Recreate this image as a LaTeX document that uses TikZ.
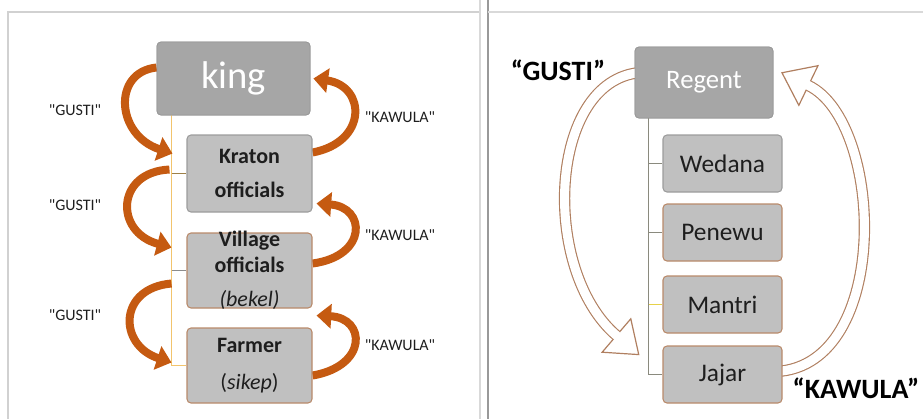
\documentclass[tikz,border=0pt]{standalone}
\usepackage{fontspec}
\setmainfont{Carlito}
\newfontfamily\lblfont{Carlito}[Ligatures=TeXOff]
\usetikzlibrary{arrows.meta,calc}
\definecolor{boxdark}{HTML}{A6A6A6}
\definecolor{boxlight}{HTML}{C0C0C0}
\definecolor{edgegray}{HTML}{9C9C9C}
\definecolor{edgebrown}{HTML}{B98A6A}
\definecolor{arrorange}{HTML}{C55A11}
\definecolor{outbrown}{HTML}{B07F60}
\definecolor{trunkyel}{HTML}{F2C46D}
\definecolor{trunkgray}{HTML}{8A8A7E}
\definecolor{tickyel}{HTML}{E6D24A}
\definecolor{txt}{HTML}{1E1E1E}
\newcommand\bxt[3]{\parbox[c][#2][c]{#1}{\centering #3}}
\begin{document}
\begin{tikzpicture}[x=0.75pt,y=-0.75pt,
  darkbox/.style={rectangle, rounded corners=3pt, fill=boxdark, draw=boxdark!92!black, line width=0.6pt, text=white, inner sep=0pt},
  lightbox/.style={rectangle, rounded corners=3pt, fill=boxlight, draw=edgegray, line width=0.8pt, text=txt, inner sep=0pt},
  brownbox/.style={lightbox, draw=edgebrown},
  lbl/.style={font=\lblfont\fontsize{12}{14}\selectfont, text=txt, inner sep=1pt},
  biglbl/.style={font=\fontsize{21}{24}\selectfont\bfseries, text=black, inner sep=1pt},
  gusti/.style={draw=arrorange, line width=6pt, -{Triangle[length=11pt,width=18pt]}},
  frame/.style={line width=1.4pt}
]
\useasboundingbox (0,0) rectangle (923,419);
% frames
\draw[frame, black!18] (8,419) -- (8,12) -- (480,12);
\draw[frame, black!15] (480,0) -- (480,419);
\draw[frame, black!40] (488,0) -- (488,419);
\draw[frame, black!15] (488,12) -- (923,12);

% ---------- left panel ----------
\coordinate (kingC) at (233.5,78.5);
\node[darkbox, minimum width=114.75pt, minimum height=54.75pt, font=\fontsize{29}{30}\selectfont] (king) at (kingC) {king};
\path (249.5,173.5) coordinate (kratonC) (249.5,270.5) coordinate (villageC) (249.5,365.5) coordinate (farmerC);
\node[lightbox, minimum width=93.75pt, minimum height=57.75pt, opacity=0] (kraton) at (kratonC) {};
\node[brownbox, minimum width=93.75pt, minimum height=56.25pt, opacity=0] (village) at (villageC) {};
\node[brownbox, minimum width=93.75pt, minimum height=56.25pt, opacity=0] (farmer) at (farmerC) {};

% trunk left
\coordinate (trunkL) at ($(king.south west)+(15,0)$);
\draw[trunkyel, line width=1pt] (trunkL) |- (farmer.west);
\draw[black!35!trunkyel, line width=1pt] (trunkL |- kraton.west) -- (kraton.west);
\draw[black!45, line width=1pt] (trunkL |- village.west) -- (village.west);

% GUSTI arrows (left)
\draw[gusti] ($(king.west)+(0,-11)$) .. controls (112,72) and (116,135) .. ($(kraton.west)+(-14,-20)$);
\draw[gusti] ($(kraton.west)+(-17,-4)$) .. controls (116,172) and (114,232) .. ($(village.west)+(-15,-23)$);
\draw[gusti] ($(village.west)+(-15,13)$) .. controls (118,288) and (118,345) .. ($(farmer.west)+(-15,-3)$);
% KAWULA arrows (left)
\draw[gusti] ($(kraton.east)+(0,-21)$) .. controls (368,142) and (366,86) .. ($(king.east)+(3,0)$);
\draw[gusti] ($(village.east)+(0,-7)$) .. controls (368,256) and (366,207) .. ($(kraton.east)+(4,30)$);
\draw[gusti] ($(farmer.east)+(0,10)$) .. controls (368,366) and (366,318) .. ($(village.east)+(4,45)$);

% left nodes drawn
\node[darkbox, minimum width=114.75pt, minimum height=54.75pt, font=\fontsize{29}{30}\selectfont] at (kingC) {king};
\node[lightbox] at (kratonC) {\bxt{93.75pt}{57.75pt}{\fontsize{16.5}{19}\selectfont\bfseries Kraton\\[7pt]officials}};
\node[brownbox] at (villageC) {\bxt{93.75pt}{56.25pt}{\fontsize{16.5}{19}\selectfont\bfseries Village\\officials\\[7pt]{\mdseries\itshape (bekel)}}};
\node[brownbox] at (farmerC) {\bxt{93.75pt}{56.25pt}{\fontsize{16.5}{19}\selectfont{\bfseries Farmer}\\[9pt](\textit{sikep})}};

% left labels
\node[lbl] (g1) at (75,110) {"GUSTI"};
\node[lbl] (g2) at (75,205) {"GUSTI"};
\node[lbl] (g3) at (75,315) {"GUSTI"};
\node[lbl] (k1) at (400,117) {"KAWULA"};
\node[lbl] (k2) at (400,235) {"KAWULA"};
\node[lbl] (k3) at (400,345) {"KAWULA"};

% ---------- right panel ----------
\node[darkbox, minimum width=103.5pt, minimum height=53.25pt, font=\fontsize{20}{22}\selectfont] (regent) at (704,82.5) {Regent};
\node[lightbox, minimum width=89.25pt, minimum height=42.75pt, opacity=0] (wedana) at (722.5,163.5) {};
\node[brownbox, minimum width=89.25pt, minimum height=42.75pt, opacity=0] (penewu) at (722.5,232.5) {};
\node[brownbox, minimum width=89.25pt, minimum height=42.75pt, opacity=0] (mantri) at (722.5,304.5) {};
\node[brownbox, minimum width=89.25pt, minimum height=42.75pt, opacity=0] (jajar) at (722.5,374.5) {};

\coordinate (trunkR) at ($(regent.south west)+(14,0)$);
\draw[trunkgray, line width=1pt] (trunkR) |- (jajar.west);
\draw[trunkgray, line width=1pt] (trunkR |- wedana.west) -- (wedana.west);
\draw[trunkgray, line width=1pt] (trunkR |- penewu.west) -- (penewu.west);
\draw[tickyel, line width=1pt] (trunkR |- mantri.west) -- (mantri.west);

% outline arrow GUSTI (Regent -> Jajar)
\coordinate (gs) at ($(regent.west)+(6,-10)$);
\coordinate (gc1) at (548,80);
\coordinate (gc2) at (540,270);
\coordinate (gB) at ($(jajar.west)+(-46,-39)$);
\coordinate (gT) at ($(gB)!-22pt!(gc2)$);
\coordinate (gb1) at ($(gB)!16.5pt!90:(gT)$);
\coordinate (gb2) at ($(gB)!16.5pt!-90:(gT)$);
\draw[outbrown, line width=8.5pt] (gs) .. controls (gc1) and (gc2) .. (gB);
\filldraw[fill=white, draw=outbrown, line width=0.9pt, line join=miter] (gb1) -- (gT) -- (gb2) -- cycle;
\draw[white, line width=6.8pt] (gs) .. controls (gc1) and (gc2) .. (gB) -- ($(gB)!-3pt!(gc2)$);

% outline arrow KAWULA (Jajar -> Regent)
\coordinate (ks) at ($(jajar.east)+(-6,-3)$);
\coordinate (kc1) at (892,365);
\coordinate (kc2) at (884,122);
\coordinate (kB) at ($(regent.east)+(35,3)$);
\coordinate (kT) at ($(kB)!-22pt!(kc2)$);
\coordinate (kb1) at ($(kB)!16.5pt!90:(kT)$);
\coordinate (kb2) at ($(kB)!16.5pt!-90:(kT)$);
\draw[outbrown, line width=8.5pt] (ks) .. controls (kc1) and (kc2) .. (kB);
\filldraw[fill=white, draw=outbrown, line width=0.9pt, line join=miter] (kb1) -- (kT) -- (kb2) -- cycle;
\draw[white, line width=6.8pt] (ks) .. controls (kc1) and (kc2) .. (kB) -- ($(kB)!-3pt!(kc2)$);

% right nodes drawn on top
\node[darkbox, minimum width=103.5pt, minimum height=53.25pt, font=\fontsize{20}{22}\selectfont] at (regent) {Regent};
\node[lightbox, minimum width=89.25pt, minimum height=42.75pt, font=\fontsize{19}{21}\selectfont] at (wedana) {Wedana};
\node[brownbox, minimum width=89.25pt, minimum height=42.75pt, font=\fontsize{19}{21}\selectfont] at (penewu) {Penewu};
\node[brownbox, minimum width=89.25pt, minimum height=42.75pt, font=\fontsize{19}{21}\selectfont] at (mantri) {Mantri};
\node[brownbox, minimum width=89.25pt, minimum height=42.75pt, font=\fontsize{19}{21}\selectfont] at (jajar) {Jajar};

\node[biglbl] (gR) at (558,70) {“GUSTI”};
\node[biglbl] (kR) at (856,388) {“KAWULA”};
\end{tikzpicture}
\end{document}
